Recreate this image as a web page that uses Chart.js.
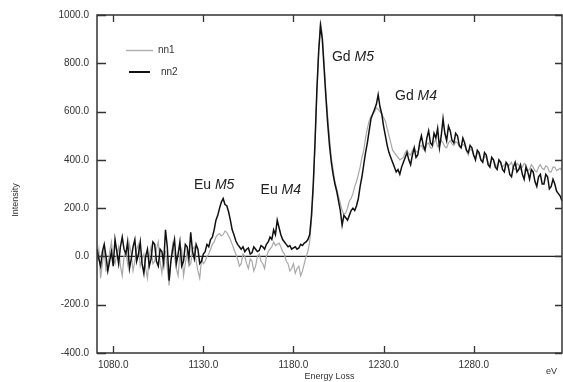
<!DOCTYPE html>
<html>
<head>
<meta charset="utf-8">
<script src="https://cdn.jsdelivr.net/npm/chart.js@4.4.1/dist/chart.umd.min.js"></script>
<style>
  html, body { margin: 0; padding: 0; background: #fff; }
  #wrap { width: 563px; height: 382px; }
</style>
</head>
<body>
<div id="wrap"><canvas id="eels"></canvas></div>
<script>
// Energy grid of the spectra (eV), 1 eV steps
const energyStart = 1071;
const energyStep = 1;

// nn1 (grey trace), 1071..1329 eV
const nn1 = [
  // 1071-1130 baseline
  -20, 30, -90, -30, 30, -60, -50, 20, 60, -10, -30, 10, 40, -40, -80, 0, 20, -30, 50, 10,
  -60, -20, 30, 50, -40, -10, 10, -50, -90, 0, 40, -30, -20, 30, 60, -20, -70, 10, 20, -50,
  -120, -10, 50, 0, -50, -80, 10, 30, -80, -30, 20, -40, -30, 30, 40, -20, -60, -90, -10, -30,
  // 1131-1186 Eu M5 / M4
  -20, 0, 10, 30, 50, 60, 80, 90, 95, 85, 90, 105, 100, 85, 70, 50, 30, 10, -10, -40,
  -30, 10, 0, -30, -50, -10, -20, -60, -40, 0, 10, -20, -30, -50, 0, 20, 30, 40, 60, 45,
  50, 55, 40, 20, 10, -20, -30, -60, -50, -30, -70, -50, -40, -80, -60, -30,
  // 1187-1240 Gd M5 / M4
  0, 20, 60, 150, 280, 470, 680, 850, 975, 920, 800, 680, 580, 490, 410, 360, 310, 280, 250, 220,
  190, 175, 180, 200, 230, 240, 260, 290, 310, 340, 370, 410, 440, 490, 530, 560, 580, 590, 600, 615,
  610, 600, 590, 575, 560, 530, 500, 470, 440, 430, 420, 410, 400, 405,
  // 1241-1329 continuum
  410, 430, 440, 425, 420, 440, 450, 435, 430, 455, 460, 445, 440, 465, 470, 450, 450, 475, 480, 455,
  460, 480, 470, 455, 450, 470, 480, 465, 460, 475, 470, 455, 450, 465, 460, 435, 420, 445, 440, 415,
  410, 430, 420, 400, 390, 415, 410, 390, 380, 405, 400, 380, 370, 395, 390, 370, 380, 385, 370, 380,
  390, 365, 360, 385, 380, 360, 370, 385, 380, 355, 360, 380, 370, 355, 350, 370, 380, 365, 360, 375,
  370, 350, 350, 370, 370, 355, 360, 365, 355
];

// nn2 (black trace), 1071..1329 eV
const nn2 = [
  // 1071-1130 baseline
  30, -10, -40, 20, 50, 0, -60, -20, 20, -40, 70, 20, -30, 40, 80, 30, 10, 60, -50, -10,
  40, 70, -20, 10, 60, -30, -70, 0, 30, -40, -10, 60, 50, -20, -40, 30, 20, -30, 110, 40,
  -100, -20, 30, 70, -30, 10, 60, -40, -20, 50, 40, -10, 100, 20, -10, 50, 30, -30, -20, 10,
  // 1131-1186 Eu M5 / M4
  20, 50, 40, 70, 80, 110, 150, 170, 200, 225, 240, 215, 210, 185, 150, 110, 90, 65, 50, 40,
  30, 40, 20, 30, 35, 10, 15, 40, 30, 20, 25, 45, 40, 30, 50, 60, 80, 70, 110, 90,
  150, 120, 90, 70, 60, 50, 40, 45, 30, 35, 40, 30, 35, 50, 45, 55,
  // 1187-1240 Gd M5 / M4
  60, 70, 90, 170, 300, 480, 690, 850, 955, 900, 780, 660, 550, 460, 390, 340, 300, 270, 230, 190,
  130, 170, 160, 150, 170, 190, 200, 190, 210, 240, 290, 330, 380, 430, 470, 520, 570, 590, 610, 630,
  670, 620, 590, 540, 500, 460, 430, 410, 390, 370, 350, 360, 340, 370,
  // 1241-1329 continuum
  390, 410, 430, 400, 380, 420, 450, 410, 420, 470, 500, 460, 440, 490, 520, 470, 460, 510, 490, 530,
  450, 500, 570, 510, 480, 540, 520, 480, 470, 510, 500, 460, 450, 490, 470, 440, 430, 460, 450, 420,
  400, 440, 430, 400, 390, 430, 420, 380, 370, 410, 400, 370, 360, 400, 390, 360, 350, 390, 380, 340,
  330, 370, 390, 350, 360, 380, 340, 320, 370, 350, 320, 360, 350, 310, 290, 330, 340, 300, 300, 340,
  330, 280, 290, 320, 300, 270, 260, 250, 230
];

const xTicks = [1080, 1130, 1180, 1230, 1280];
const yTicks = [-400, -200, 0, 200, 400, 600, 800, 1000];

// Peak labels: [element, edge, energy, intensity]
const peakLabels = [
  ["Eu ", "M5", 1136, 296],
  ["Eu ", "M4", 1173, 275],
  ["Gd ", "M5", 1213, 826],
  ["Gd ", "M4", 1248, 664],
];

function toPoints(values) {
  return values.map((v, i) => ({ x: energyStart + i * energyStep, y: v }));
}

// Frame, inward ticks, zero line, legend and labels
const decorations = {
  id: "decorations",
  beforeDatasetsDraw(chart) {
    const { ctx, chartArea: a, scales } = chart;
    const y0 = scales.y.getPixelForValue(0);
    ctx.save();
    ctx.strokeStyle = "#222";
    ctx.lineWidth = 1.2;
    ctx.beginPath();
    ctx.moveTo(a.left, y0);
    ctx.lineTo(a.right, y0);
    ctx.stroke();
    ctx.restore();
  },
  afterDatasetsDraw(chart) {
    const { ctx, chartArea: a, scales } = chart;
    ctx.save();
    ctx.strokeStyle = "#333";
    ctx.lineWidth = 1.5;
    ctx.strokeRect(a.left, a.top, a.right - a.left, a.bottom - a.top);

    ctx.lineWidth = 1.3;
    ctx.beginPath();
    xTicks.forEach((t) => {
      const px = Math.round(scales.x.getPixelForValue(t)) + 0.5;
      ctx.moveTo(px, a.bottom);
      ctx.lineTo(px, a.bottom - 7);
      ctx.moveTo(px, a.top);
      ctx.lineTo(px, a.top + 7);
    });
    yTicks.forEach((t) => {
      const py = Math.round(scales.y.getPixelForValue(t)) + 0.5;
      ctx.moveTo(a.left, py);
      ctx.lineTo(a.left + 9, py);
      ctx.moveTo(a.right, py);
      ctx.lineTo(a.right - 7, py);
    });
    ctx.stroke();

    // legend
    ctx.lineWidth = 1.5;
    ctx.strokeStyle = "#b0b0b0";
    ctx.beginPath();
    ctx.moveTo(126, 50.5);
    ctx.lineTo(153, 50.5);
    ctx.stroke();
    ctx.strokeStyle = "#111";
    ctx.lineWidth = 2;
    ctx.beginPath();
    ctx.moveTo(129, 72);
    ctx.lineTo(150, 72);
    ctx.stroke();
    ctx.fillStyle = "#333";
    ctx.font = "10px 'Liberation Sans', Arial, sans-serif";
    ctx.textBaseline = "middle";
    ctx.fillText("nn1", 158, 50);
    ctx.fillText("nn2", 161, 72);

    // axis extras
    ctx.font = "9px 'Liberation Sans', Arial, sans-serif";
    ctx.fillText("eV", 546, 372);
    ctx.save();
    ctx.translate(16, 200);
    ctx.rotate(-Math.PI / 2);
    ctx.textAlign = "center";
    ctx.fillText("Intensity", 0, 0);
    ctx.restore();

    // peak labels
    ctx.fillStyle = "#222";
    peakLabels.forEach(([el, edge, e, v]) => {
      const cx = scales.x.getPixelForValue(e);
      const cy = scales.y.getPixelForValue(v);
      ctx.font = "14px 'Liberation Sans', Arial, sans-serif";
      const w1 = ctx.measureText(el).width;
      ctx.font = "italic 14px 'Liberation Sans', Arial, sans-serif";
      const w2 = ctx.measureText(edge).width;
      const x0 = cx - (w1 + w2) / 2;
      ctx.font = "14px 'Liberation Sans', Arial, sans-serif";
      ctx.fillText(el, x0, cy);
      ctx.font = "italic 14px 'Liberation Sans', Arial, sans-serif";
      ctx.fillText(edge, x0 + w1, cy);
    });
    ctx.restore();
  },
};

const ctx = document.getElementById("eels");

window.eelsChart = new Chart(ctx, {
  type: "line",
  data: {
    datasets: [
      {
        label: "nn2",
        data: toPoints(nn2),
        borderColor: "#111",
        borderWidth: 1.5,
        pointRadius: 0,
        tension: 0,
        fill: false,
      },
      {
        label: "nn1",
        data: toPoints(nn1),
        borderColor: "#a8a8a8",
        borderWidth: 1.2,
        pointRadius: 0,
        tension: 0,
        fill: false,
      },
    ],
  },
  options: {
    responsive: true,
    maintainAspectRatio: false,
    animation: false,
    layout: {
      padding: { top: 15, right: 1, left: 0, bottom: 0 },
    },
    plugins: {
      legend: { display: false },
      tooltip: { enabled: false },
    },
    scales: {
      x: {
        type: "linear",
        min: 1071,
        max: 1329,
        afterBuildTicks: (scale) => {
          scale.ticks = xTicks.map((v) => ({ value: v }));
        },
        afterFit: (scale) => {
          scale.height = 29;
        },
        grid: { display: false, drawTicks: false },
        border: { display: false },
        ticks: {
          padding: 6,
          color: "#333",
          font: { size: 10, family: "'Liberation Sans', Arial, sans-serif" },
          callback: (v) => v.toFixed(1),
          maxRotation: 0,
        },
        title: {
          display: true,
          text: "Energy Loss",
          color: "#333",
          padding: 0,
          font: { size: 9, family: "'Liberation Sans', Arial, sans-serif" },
        },
      },
      y: {
        min: -400,
        max: 1000,
        afterBuildTicks: (scale) => {
          scale.ticks = yTicks.map((v) => ({ value: v }));
        },
        afterFit: (scale) => {
          scale.width = 97;
        },
        grid: { display: false, drawTicks: false },
        border: { display: false },
        ticks: {
          padding: 8,
          color: "#333",
          font: { size: 10, family: "'Liberation Sans', Arial, sans-serif" },
          callback: (v) => v.toFixed(1),
        },
      },
    },
  },
  plugins: [decorations],
});
</script>
</body>
</html>
